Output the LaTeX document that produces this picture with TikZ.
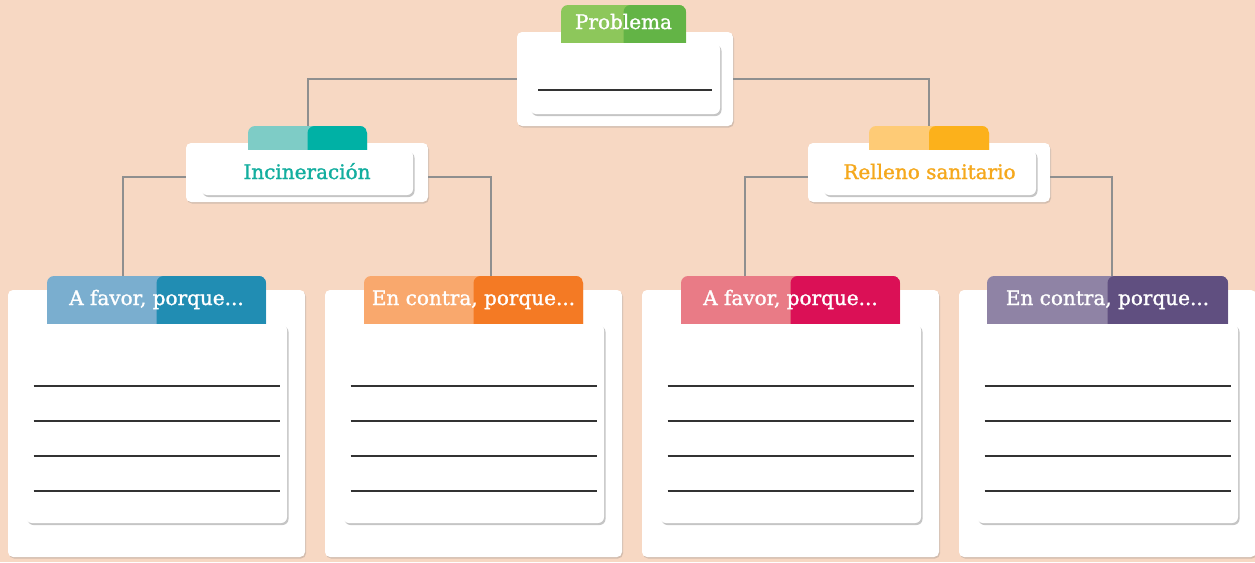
\documentclass[tikz,border=0pt]{standalone}
\usepackage{fontspec}
\setmainfont{DejaVu Serif}
\newfontfamily\rotulofont[FakeBold=1.3]{DejaVu Serif}
\usetikzlibrary{shadows}

\definecolor{fondo}{HTML}{F7D8C3}
\definecolor{enlace}{HTML}{8F8F8F}
\definecolor{verdeA}{HTML}{8DC75B}
\definecolor{verdeB}{HTML}{63B446}
\definecolor{turquesaA}{HTML}{7ECCC6}
\definecolor{turquesaB}{HTML}{00B1A5}
\definecolor{turquesaT}{HTML}{13AE9F}
\definecolor{amarilloA}{HTML}{FECB76}
\definecolor{amarilloB}{HTML}{FCB11B}
\definecolor{amarilloT}{HTML}{F5A81C}
\definecolor{azulA}{HTML}{7AAECF}
\definecolor{azulB}{HTML}{218DB3}
\definecolor{naranjaA}{HTML}{F9A86D}
\definecolor{naranjaB}{HTML}{F47A24}
\definecolor{rosaA}{HTML}{E97B86}
\definecolor{rosaB}{HTML}{DB1056}
\definecolor{moradoA}{HTML}{8F83A5}
\definecolor{moradoB}{HTML}{604F80}

\tikzset{
  marco/.style={fill=white, inner sep=0pt, rounded corners=5pt,
    drop shadow={shadow xshift=1pt, shadow yshift=-1.5pt, opacity=0.3}},
  hoja/.style={fill=white, inner sep=0pt, rounded corners=6pt,
    drop shadow={shadow xshift=1.5pt, shadow yshift=-2pt, opacity=0.45}},
  pestana/.style 2 args={fill=#1, inner sep=0pt, rounded corners=7pt,
    path picture={\fill[#2] (path picture bounding box.north)
      rectangle (path picture bounding box.south east);}},
  rotulo/.style={font=\rotulofont\fontsize{20}{20}\selectfont, text height=0.75em, text depth=0.25em},
  enlacegris/.style={draw=enlace, line width=2pt},
  renglon/.style={draw=black!80, line width=1.1pt}
}

\begin{document}
\begin{tikzpicture}[x=1pt, y=-1pt]

\useasboundingbox (0,0) rectangle (1255,562);
\fill[fondo] (0,0) rectangle (1255,562);

% Problema
\node[marco, minimum width=216, minimum height=94] (probMarco) at (625,79) {};
\node[pestana={verdeA}{verdeB}, minimum width=125, minimum height=48,
  label={[rotulo, text=white, yshift=2.5pt]center:Problema}] (probTab) at (623.5,29) {};
\node[hoja, minimum width=190, minimum height=71] (probHoja) at (625,78.5) {};
\draw[renglon] (538,90) -- (712,90);

% Incineracion y relleno sanitario
\node[marco, minimum width=242, minimum height=59] (incMarco) at (307,172.5) {};
\node[pestana={turquesaA}{turquesaB}, minimum width=119, minimum height=34] (incTab) at (307.5,143) {};
\node[hoja, minimum width=212, minimum height=45,
  label={[rotulo, text=turquesaT, yshift=-4pt]center:Incineración}] (incHoja) at (307,172.5) {};

\node[marco, minimum width=242, minimum height=59] (relMarco) at (929,172.5) {};
\node[pestana={amarilloA}{amarilloB}, minimum width=120, minimum height=34] (relTab) at (929,143) {};
\node[hoja, minimum width=213, minimum height=45,
  label={[rotulo, text=amarilloT, yshift=-4pt]center:Relleno sanitario}] (relHoja) at (929.5,172.5) {};

% Argumentos
\foreach \cx/\n/\cl/\cd/\w/\txt in {156.5/af1/azulA/azulB/219/{A favor, porque...},
    473.5/ec1/naranjaA/naranjaB/219/{En contra, porque...},
    790.5/af2/rosaA/rosaB/219/{A favor, porque...},
    1107.5/ec2/moradoA/moradoB/241/{En contra, porque...}}
{
  \node[marco, minimum width=297, minimum height=267] (\n Marco) at (\cx,423.5) {};
  \node[pestana={\cl}{\cd}, minimum width=\w, minimum height=58,
    label={[rotulo, text=white, yshift=2.5pt]center:\txt}] (\n Tab) at (\cx,305) {};
  \node[hoja, minimum width=261, minimum height=199] (\n Hoja) at (\cx,423.5) {};
  \foreach \y in {386,421,456,491}
    \draw[renglon] (\cx-123,\y) -- (\cx+123,\y);
}

% Enlaces
\draw[enlacegris] (probMarco.west) -| (incTab.north);
\draw[enlacegris] (probMarco.east) -| (relTab.north);
\draw[enlacegris] ([yshift=-4.5pt]incMarco.west) -| ([xshift=-33.5pt]af1Tab.north);
\draw[enlacegris] ([yshift=-4.5pt]incMarco.east) -| ([xshift=17.5pt]ec1Tab.north);
\draw[enlacegris] ([yshift=-4.5pt]relMarco.west) -| ([xshift=-45.5pt]af2Tab.north);
\draw[enlacegris] ([yshift=-4.5pt]relMarco.east) -| ([xshift=4.5pt]ec2Tab.north);

\end{tikzpicture}
\end{document}
